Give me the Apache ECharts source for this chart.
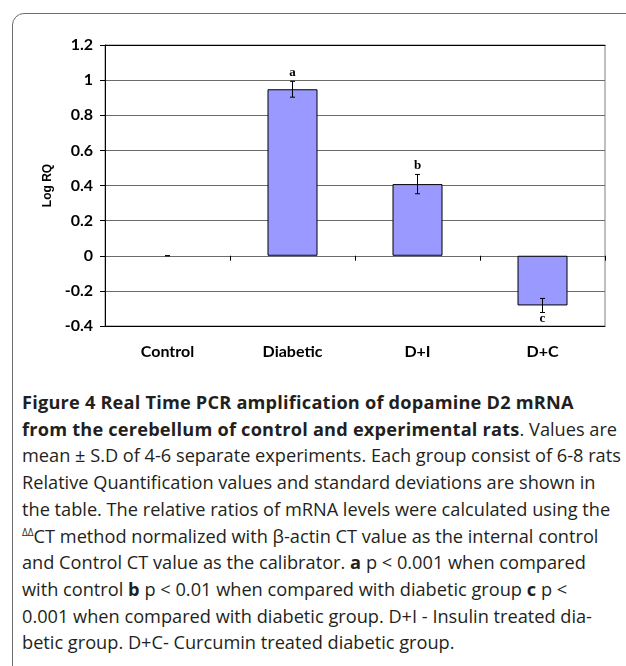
<!DOCTYPE html>
<html>
<head>
<meta charset="utf-8">
<script src="https://cdn.jsdelivr.net/npm/echarts@6/dist/echarts.min.js"></script>
<style>
  body { margin: 0; background: #fff; }
  #page { position: relative; width: 626px; height: 666px; overflow: hidden; background: #fff; }
  #frame {
    position: absolute; left: 12px; top: 13px; width: 700px; height: 700px;
    border: 1px solid #6e6e6e; border-top-left-radius: 12px;
  }
  #chart { position: absolute; left: 0; top: 0; width: 626px; height: 380px; }
  #caption {
    position: absolute; left: 22px; top: 389px;
    font-family: "Open Sans", sans-serif; font-size: 18.2px; line-height: 26.7px;
    letter-spacing: 0; color: #231f20; white-space: nowrap;
  }
  #caption b { font-weight: 700; letter-spacing: 0.2px; }
  #caption sup { font-size: 10px; vertical-align: 7px; line-height: 0; }
</style>
</head>
<body>
<div id="page">
  <div id="frame"></div>
  <div id="chart"></div>
  <div id="caption">
    <b>Figure 4 Real Time PCR amplification of dopamine D2 mRNA</b><br>
    <b>from the cerebellum of control and experimental rats</b>. Values are<br>
    mean ± S.D of 4-6 separate experiments. Each group consist of 6-8 rats<br>
    Relative Quantification values and standard deviations are shown in<br>
    the table. The relative ratios of mRNA levels were calculated using the<br>
    <sup>ΔΔ</sup>CT method normalized with β-actin CT value as the internal control<br>
    and Control CT value as the calibrator. <b>a</b> p &lt; 0.001 when compared<br>
    with control <b>b</b> p &lt; 0.01 when compared with diabetic group <b>c</b> p &lt;<br>
    0.001 when compared with diabetic group. D+I - Insulin treated dia-<br>
    betic group. D+C- Curcumin treated diabetic group.
  </div>
</div>
<script>
// data
const categories = ['Control', 'Diabetic', 'D+I', 'D+C'];
const logRQ = [0, 0.948, 0.408, -0.283];
const sdValues = [0, 0.045, 0.055, 0.04];
const sigLetters = ['', 'a', 'b', 'c'];
const yMin = -0.4, yMax = 1.2, yStep = 0.2;

const labelFont = 'Lato, "Open Sans", sans-serif';

// bars: no outline on the zero-height control bar
const barData = logRQ.map((v) => {
    if (v == 0) {
        return { value: v, itemStyle: { borderWidth: 0 } };
    }
    return v;
});

const errData = logRQ.map((v, i) => [i, v - sdValues[i], v + sdValues[i], sigLetters[i], v]);

const renderError = (params, api) => {
    let i = api.value(0);
    let lo = api.coord([i, api.value(1)]);
    let hi = api.coord([i, api.value(2)]);
    let mean = api.value(4);
    let letter = sigLetters[i];
    let cap = 2.5;
    let stroke = { stroke: '#000', lineWidth: 1 };
    let children = [
        { type: 'line', shape: { x1: hi[0], y1: hi[1], x2: lo[0], y2: lo[1] }, style: stroke },
        { type: 'line', shape: { x1: hi[0] - cap, y1: hi[1], x2: hi[0] + cap, y2: hi[1] }, style: stroke },
        { type: 'line', shape: { x1: lo[0] - cap, y1: lo[1], x2: lo[0] + cap, y2: lo[1] }, style: stroke }
    ];
    if (letter) {
        let ty = mean >= 0 ? hi[1] - 9 : lo[1] + 6;
        children.push({
            type: 'text',
            style: {
                text: letter, x: hi[0], y: ty, align: 'center', verticalAlign: 'middle',
                font: 'bold 13px "Liberation Serif", serif', fill: '#000'
            }
        });
    }
    return { type: 'group', children: children };
};

var dom = document.getElementById('chart');
var myChart = echarts.init(dom, null, { renderer: 'canvas' });
var option = {
    animation: false,
    grid: {
        left: 105, right: 21, top: 45, bottom: 54,
        show: true, borderColor: '#808080', borderWidth: 1, backgroundColor: '#fff'
    },
    xAxis: [
        {
            type: 'category', data: categories, position: 'bottom',
            axisLine: { onZero: false, lineStyle: { color: '#000', width: 1 } },
            axisTick: { show: false },
            axisLabel: { color: '#000', fontFamily: labelFont, fontWeight: 'bold', fontSize: 16, margin: 18 }
        },
        {
            type: 'category', data: categories, position: 'bottom',
            axisLine: { onZero: true, lineStyle: { color: '#6b6b6b', width: 1 } },
            axisTick: { show: true, length: 5, lineStyle: { color: '#000' } },
            axisLabel: { show: false }
        },
        {
            type: 'category', data: categories, position: 'top',
            axisLine: { onZero: false, lineStyle: { color: '#000', width: 1 } },
            axisTick: { show: false },
            axisLabel: { show: false }
        }
    ],
    yAxis: {
        type: 'value', min: yMin, max: yMax, interval: yStep,
        name: 'Log RQ', nameLocation: 'middle', nameGap: 47, nameRotate: 90,
        nameTextStyle: { color: '#000', fontFamily: '"Liberation Sans", Arial, sans-serif', fontWeight: 'bold', fontSize: 12 },
        axisLine: { show: true, lineStyle: { color: '#000' } },
        axisTick: { show: true, length: 5, lineStyle: { color: '#000' } },
        axisLabel: {
            color: '#000', fontFamily: labelFont, fontWeight: 'bold', fontSize: 16, margin: 12,
            formatter: (v) => String(Math.round(v * 10) / 10)
        },
        splitLine: { show: true, lineStyle: { color: '#6b6b6b', width: 1 } }
    },
    series: [
        {
            type: 'bar', data: barData, barWidth: 50, xAxisIndex: 0,
            itemStyle: { color: '#9999ff', borderColor: '#000', borderWidth: 1 }
        },
        {
            type: 'custom', data: errData, xAxisIndex: 0, z: 5,
            renderItem: renderError
        }
    ]
};
myChart.setOption(option);
</script>
</body>
</html>
